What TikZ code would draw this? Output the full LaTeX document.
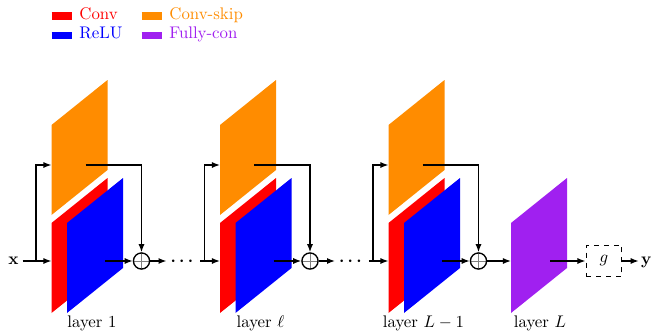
\documentclass[tikz,border=0pt]{standalone}
\usepackage{amsmath}
\usetikzlibrary{arrows.meta,positioning}
\definecolor{convred}{RGB}{255,0,0}
\definecolor{skiporange}{RGB}{255,140,0}
\definecolor{relublue}{RGB}{0,0,255}
\definecolor{fcpurple}{RGB}{160,32,240}
\tikzset{
  addop/.style={circle,draw,thick,inner sep=0pt,minimum size=9.6pt,
    path picture={\draw[gray,thin] (path picture bounding box.north)--(path picture bounding box.south)
      (path picture bounding box.west)--(path picture bounding box.east);}},
  legend/.style={inner sep=0pt,anchor=base west},
  lbl/.style={inner sep=0pt,anchor=base},
  dotsnode/.style={inner sep=2pt,text height=5pt,text depth=0pt},
}
\begin{document}
\begin{tikzpicture}[x=0.0209cm,y=-0.0209cm,thick,>={Latex[length=4.8pt,width=3.6pt]}]
\useasboundingbox (0,0) rectangle (653,331);
% legend
\node[legend,text=convred] (lconv) at (51,19.5) {\rule{11.9pt}{4.2pt}\hspace{4.6pt}Conv};
\node[legend,text=relublue] (lrelu) at (51,38.8) {\rule{11.9pt}{4.2pt}\hspace{4.6pt}ReLU};
\node[legend,text=skiporange] (lskip) at (141,19.5) {\rule{11.9pt}{4.2pt}\hspace{4.6pt}Conv-skip};
\node[legend,text=fcpurple] (lfc) at (141,38.8) {\rule{11.9pt}{4.2pt}\hspace{4.6pt}Fully-con};
% residual blocks
\foreach \b/\lab/\lx [count=\i] in {51.5/layer 1/92, 220/layer $\ell$/260.5, 388.5/layer $L-1$/423.5} {
  \fill[skiporange] (\b,125) -- ++(56,-45) -- ++(0,90) -- ++(-56,45) -- cycle;
  \fill[convred] (\b,223) -- ++(56,-45) -- ++(0,90) -- ++(-56,45) -- cycle;
  \fill[relublue] (\b+15.5,223) -- ++(56,-45) -- ++(0,90) -- ++(-56,45) -- cycle;
  \coordinate (in\i) at (\b,261);
  \coordinate (skipin\i) at (\b,165);
  \coordinate (skipout\i) at (\b+34,165);
  \coordinate (convout\i) at (\b+53.5,261);
  \coordinate (br\i) at (\b-15.5,261);
  \node[addop] (add\i) at (\b+90,261) {};
  \node[lbl] (lab\i) at (\lx,327) {\lab};
  \draw[->] (convout\i) -- (add\i);
  \draw[->] (skipout\i) -| (add\i);
  \draw[->] (br\i) |- (skipin\i);
}
% last layer
\fill[fcpurple] (511,223) -- ++(56,-45) -- ++(0,90) -- ++(-56,45) -- cycle;
\coordinate (fcin) at (511,261);
\coordinate (fcout) at (550,261);
\node[lbl] (labL) at (540,327) {layer $L$};
\node[dotsnode] (dots1) at (183.5,261) {$\boldsymbol{\cdots}$};
\node[dotsnode] (dots2) at (352,261) {$\boldsymbol{\cdots}$};
\node[inner sep=2pt,text depth=0pt] (x) at (13.5,261) {$\mathbf{x}$};
\node[draw,dashed,semithick,minimum width=21.4pt,minimum height=18.8pt] (g) at (604,261) {$g$};
\node[inner sep=1pt,text depth=0pt,right=0.34cm of g] (y) {$\mathbf{y}$};
% connections
\draw[->] (x) -- (in1);
\draw[->] (add1) -- (dots1);
\draw[->] (dots1) -- (in2);
\draw[->] (add2) -- (dots2);
\draw[->] (dots2) -- (in3);
\draw[->] (add3) -- (fcin);
\draw[->] (fcout) -- (g);
\draw[->] (g) -- (y);
\end{tikzpicture}
\end{document}
